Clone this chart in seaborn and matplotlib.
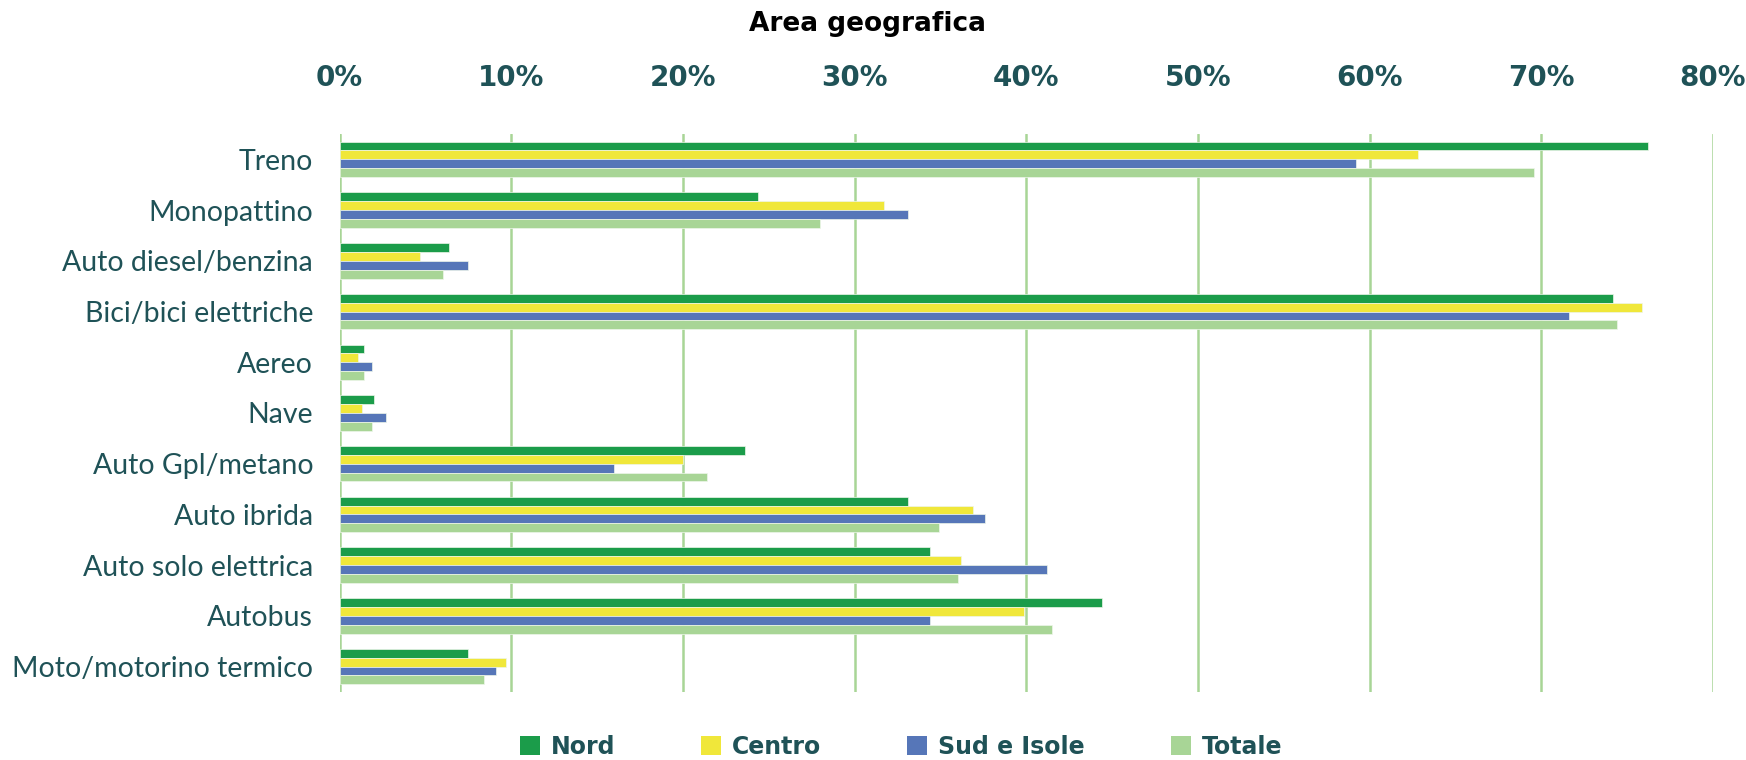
import matplotlib
matplotlib.use("Agg")
import matplotlib.pyplot as plt
import seaborn as sns
import pandas as pd
from matplotlib.ticker import FuncFormatter
from matplotlib.patches import Patch

categories = ["Treno", "Monopattino", "Auto diesel/benzina", "Bici/bici elettriche",
              "Aereo", "Nave", "Auto Gpl/metano", "Auto ibrida",
              "Auto solo elettrica", "Autobus", "Moto/motorino termico"]
series = ["Nord", "Centro", "Sud e Isole", "Totale"]
nord   = [76.2, 24.4, 6.4, 74.2, 1.4, 2.0, 23.6, 33.1, 34.4, 44.4, 7.5]
centro = [62.8, 31.7, 4.7, 75.9, 1.1, 1.3, 20.0, 36.9, 36.2, 39.9, 9.7]
sud    = [59.2, 33.1, 7.5, 71.6, 1.9, 2.7, 16.0, 37.6, 41.2, 34.4, 9.1]
totale = [69.6, 28.0, 6.0, 74.4, 1.4, 1.9, 21.4, 34.9, 36.0, 41.5, 8.4]
xticks = [0, 10, 20, 30, 40, 50, 60, 70, 80]
title = "Area geografica"

colors = ["#1B9C4A", "#F0E73A", "#5676B8", "#A8D596"]
teal = "#1F5257"

rows = []
for s, vals in zip(series, [nord, centro, sud, totale]):
    for c, v in zip(categories, vals):
        rows.append({"cat": c, "serie": s, "val": v})
df = pd.DataFrame(rows)

sns.set_theme(style="white")
plt.rcParams["font.family"] = ["DejaVu Sans"]

fig = plt.figure(figsize=(17.46, 7.60), dpi=100)
ax = fig.add_axes([0.1945, 0.0895, 0.7865, 0.7342])

sns.barplot(data=df, y="cat", x="val", hue="serie", order=categories,
            hue_order=series, palette=colors, saturation=1, orient="h",
            width=0.70, edgecolor="#EEF6EA", linewidth=0.5, ax=ax, legend=False)

ax.set_xlim(0, 80)
ax.set_ylim(10.5, -0.5)
ax.set_xticks(xticks)
ax.xaxis.set_major_formatter(FuncFormatter(lambda v, p: f"{int(v)}%"))
ax.xaxis.tick_top()
ax.grid(axis="x", color="#A8D596", linewidth=1.8)
ax.grid(axis="y", visible=False)
ax.set_axisbelow(True)
for sp in ax.spines.values():
    sp.set_visible(False)
ax.set_xlabel("")
ax.set_ylabel("")
ax.tick_params(axis="x", length=0, pad=30)
ax.tick_params(axis="y", length=0, pad=19)
for lab in ax.get_xticklabels():
    lab.set_fontweight("bold")
    lab.set_fontsize(20)
    lab.set_color(teal)
for lab in ax.get_yticklabels():
    lab.set_fontfamily("Lato")
    lab.set_fontsize(20.5)
    lab.set_color(teal)

fig.text(0.497, 0.968, title, ha="center", va="center", fontsize=19,
         fontweight="bold", color="black")

handles = [Patch(facecolor=c, edgecolor="none") for c in colors]
leg = fig.legend(handles, series, loc="center", bbox_to_anchor=(0.516, 0.017),
                 ncol=4, frameon=False, handlelength=0.85, handleheight=0.85,
                 handletextpad=0.45, columnspacing=3.65,
                 prop={"weight": "bold", "size": 17})
for t in leg.get_texts():
    t.set_color(teal)

fig.savefig("out.png", dpi=100)
